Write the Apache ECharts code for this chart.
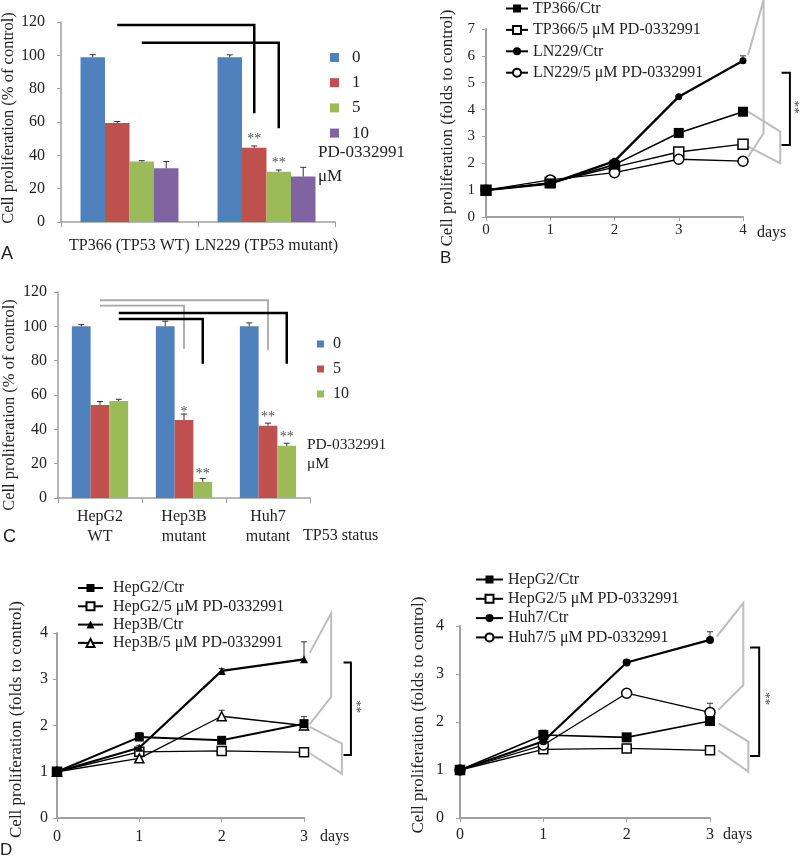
<!DOCTYPE html>
<html>
<head>
<meta charset="utf-8">
<title>PD-0332991 cell proliferation</title>
<script src="https://cdn.jsdelivr.net/npm/echarts@6.0.0/dist/echarts.min.js"></script>
<style>
  html, body { margin: 0; padding: 0; background: #fff; }
  .panel { position: absolute; left: 0; top: 0; width: 800px; height: 861px; }
</style>
</head>
<body>
<div id="panelA" class="panel"></div>
<div id="panelB" class="panel"></div>
<div id="panelC" class="panel"></div>
<div id="panelD1" class="panel"></div>
<div id="panelD2" class="panel"></div>
<script>
var SERIF = "'Liberation Serif', 'Times New Roman', serif";
var SANS = "'Liberation Sans', Arial, sans-serif";
var TXT = '#222';
var AXIS_GREY = '#a0a0a0';
var LINK_GREY = '#bdbdbd';
var BLUE = '#4F81BD', RED = '#C0504D', GREEN = '#9BBB59', PURPLE = '#8064A2';

// ---- panel A : glioma lines, % of control
var aCells = ['TP366 (TP53 WT)', 'LN229 (TP53 mutant)'];
var aDoses = ['0', '1', '5', '10'];
var aVal0 = [98.8, 98.8];
var aVal1 = [59.4, 44.6];
var aVal5 = [36.3, 30.2];
var aVal10 = [32.3, 27.3];
var aErr0 = [1.6, 1.5];
var aErr1 = [0.9, 1.0];
var aErr5 = [0.5, 1.0];
var aErr10 = [4.0, 5.5];
var aStar1 = ['', '**'];
var aStar5 = ['', '**'];
// brackets: [fromCell, toCell, doseIndex, top, drop]
var aLinks = [[0, 1, 1, 118.2, 65.2], [0, 1, 2, 107.6, 56.2]];

// ---- panel B : glioma lines, folds to control
var bDays = [0, 1, 2, 3, 4];
var bTp366Ctr = [1.0, 1.25, 1.95, 3.13, 3.92];
var bTp366Pd = [1.0, 1.28, 1.86, 2.42, 2.71];
var bLn229Ctr = [1.0, 1.24, 2.08, 4.48, 5.82];
var bLn229Pd = [1.0, 1.38, 1.65, 2.15, 2.08];
var bErrTp366Ctr = [0, 0, 0, 0.05, 0.08];
var bErrTp366Pd = [0, 0, 0, 0, 0.05];
var bErrLn229Ctr = [0, 0, 0.05, 0.05, 0.18];
var bErrLn229Pd = [0, 0, 0, 0, 0.04];

// ---- panel C : HCC lines, % of control
var cCells = ['HepG2\nWT', 'Hep3B\nmutant', 'Huh7\nmutant'];
var cDoses = ['0', '5', '10'];
var cVal0 = [100, 100, 100];
var cVal5 = [54.2, 45.4, 42.1];
var cVal10 = [56.5, 9.4, 30.4];
var cErr0 = [1.0, 3.0, 2.0];
var cErr5 = [2.0, 3.5, 1.5];
var cErr10 = [1.0, 2.0, 1.5];
var cStar5 = ['', '*', '**'];
var cStar10 = ['', '**', '**'];
var cLinksGrey = [[0, 2, 1, 115.2, 86.0], [0, 1, 1, 112.1, 87.0]];
var cLinksBlack = [[0, 2, 2, 107.8, 78.2], [0, 1, 2, 104.3, 78.2]];

// ---- panel D : HCC lines, folds to control
var dDays = [0, 1, 2, 3];
var dHepg2CtrL = [1.0, 1.75, 1.68, 2.04];
var dHepg2PdL = [1.0, 1.43, 1.45, 1.42];
var dHep3bCtr = [1.0, 1.52, 3.18, 3.43];
var dHep3bPd = [1.0, 1.29, 2.2, 2.0];
var dErrHepg2CtrL = [0, 0.1, 0.05, 0.15];
var dErrHep3bCtr = [0, 0.05, 0.05, 0.38];
var dErrHep3bPd = [0, 0.05, 0.13, 0.05];
var dHepg2CtrR = [1.0, 1.73, 1.68, 2.02];
var dHepg2PdR = [1.0, 1.43, 1.45, 1.41];
var dHuh7Ctr = [1.0, 1.6, 3.24, 3.71];
var dHuh7Pd = [1.0, 1.52, 2.6, 2.2];
var dErrHepg2CtrR = [0, 0.1, 0.05, 0.08];
var dErrHuh7Ctr = [0, 0.05, 0.05, 0.17];
var dErrHuh7Pd = [0, 0.05, 0.05, 0.19];
var zeros4 = [0, 0, 0, 0];

function px(chart, x, y) {
    return chart.convertToPixel({gridIndex: 0}, [x, y]);
}

function serifText(size, extra) {
    var t = {fontFamily: SERIF, fontSize: size, color: TXT};
    if (extra) for (var k in extra) t[k] = extra[k];
    return t;
}

function textEl(x, y, text, size, font) {
    return {
        type: 'text', x: x, y: y, z: 20,
        style: {text: text, fill: TXT, fontFamily: font, fontSize: size,
            textAlign: 'left', textVerticalAlign: 'middle', align: 'left', verticalAlign: 'middle'}
    };
}

function barPanel(id, p) {
    var chart = echarts.init(document.getElementById(id));
    var n = p.values.length;
    var series = p.values.map(function (vals, i) {
        return {
            name: p.doses[i], type: 'bar', barGap: 0, barCategoryGap: p.gap + '%',
            itemStyle: {color: p.colors[i]},
            emphasis: {disabled: true},
            data: vals.map(function (v, j) {
                var s = p.stars[i] ? p.stars[i][j] : '';
                if (!s) return v;
                return {value: v, label: {show: true, position: 'top', distance: 1, formatter: s,
                    fontFamily: SERIF, fontSize: 14, color: '#555'}};
            })
        };
    });
    var errData = [];
    p.errs.forEach(function (es, i) {
        es.forEach(function (e, j) { errData.push([j, i, p.values[i][j], e]); });
    });
    series.push({
        type: 'custom', z: 5, encode: {x: 0, y: 2}, data: errData, silent: true,
        renderItem: function (params, api) {
            var j = api.value(0), i = api.value(1), v = api.value(2), e = api.value(3);
            var band = api.coord([1, 0])[0] - api.coord([0, 0])[0];
            var bw = band * (1 - p.gap / 100) / n;
            var base = api.coord([j, v]);
            var x = base[0] + (i - (n - 1) / 2) * bw;
            var y1 = api.coord([j, v + e])[1];
            var st = {stroke: '#333', lineWidth: 1};
            return {type: 'group', children: [
                {type: 'line', shape: {x1: x, y1: base[1], x2: x, y2: y1}, style: st},
                {type: 'line', shape: {x1: x - 3, y1: y1, x2: x + 3, y2: y1}, style: st}
            ]};
        }
    });
    chart.setOption({
        animation: false,
        textStyle: {fontFamily: SERIF, color: TXT},
        grid: p.grid,
        legend: {
            orient: 'vertical', left: p.legend.left, top: p.legend.top, selectedMode: false,
            icon: 'rect', itemWidth: p.legend.size, itemHeight: p.legend.size, itemGap: p.legend.gap,
            data: p.doses,
            textStyle: serifText(p.legend.font, {lineHeight: 18, padding: [0, 0, 0, p.legend.pad]})
        },
        xAxis: {
            type: 'category', data: p.cells,
            name: p.xName || '', nameLocation: 'end', nameGap: p.xNameGap || 0,
            nameTextStyle: serifText(16, {align: 'left', verticalAlign: 'top', padding: [p.xNamePad || 0, 0, 0, 0]}),
            axisLine: {lineStyle: {color: AXIS_GREY, width: 1.5}},
            axisTick: {show: true, length: 5, lineStyle: {color: AXIS_GREY}},
            axisLabel: serifText(16, {margin: p.xMargin, lineHeight: 20, interval: 0})
        },
        yAxis: {
            type: 'value', min: 0, max: p.yMax, interval: p.yStep,
            name: 'Cell proliferation (% of control)', nameLocation: 'middle', nameGap: p.yNameGap,
            nameTextStyle: serifText(16.5, {padding: p.yNamePad}),
            splitLine: {show: false},
            axisLine: {show: true, lineStyle: {color: AXIS_GREY, width: 1.5}},
            axisTick: {show: true, length: 4, lineStyle: {color: AXIS_GREY}},
            axisLabel: serifText(16, {margin: p.yMargin})
        },
        series: series
    });

    // significance brackets, placed through the chart's own scales
    var band = px(chart, 1, 0)[0] - px(chart, 0, 0)[0];
    var bw = band * (1 - p.gap / 100) / n;
    var g = [];
    p.links.forEach(function (set) {
        set.list.forEach(function (l) {
            var off = (l[2] - (n - 1) / 2) * bw;
            var a = px(chart, l[0], l[3]), b = px(chart, l[1], l[3]), c = px(chart, l[1], l[4]);
            g.push({type: 'polyline', z: 10, shape: {points: [[a[0] + off, a[1]], [b[0] + off, b[1]], [c[0] + off, c[1]]]},
                style: {stroke: set.color, lineWidth: set.width, fill: 'none'}});
        });
    });
    g.push(textEl(p.pd.x, p.pd.y, 'PD-0332991', p.pd.font, SERIF));
    g.push(textEl(p.pd.x, p.pd.y + p.pd.step, 'μM', p.pd.font, SERIF));
    g.push(textEl(p.letter.x, p.letter.y, p.letter.text, 18, SANS));
    chart.setOption({graphic: g});
    return chart;
}

function linePanel(id, p) {
    var chart = echarts.init(document.getElementById(id));
    var series = [];
    p.lines.forEach(function (ln) {
        series.push({
            name: ln.name, type: 'line', z: ln.open ? 3 : 4,
            data: p.days.map(function (d, i) { return [d, ln.values[i]]; }),
            symbol: ln.symbol, symbolSize: ln.size, showAllSymbol: true,
            lineStyle: {color: '#000', width: ln.width},
            itemStyle: ln.open ? {color: '#fff', borderColor: '#000', borderWidth: 1.5} : {color: '#000'},
            emphasis: {disabled: true}
        });
    });
    var errData = [];
    p.lines.forEach(function (ln) {
        ln.errs.forEach(function (e, i) { if (e > 0) errData.push([p.days[i], ln.values[i], e]); });
    });
    series.push({
        type: 'custom', z: 2, encode: {x: 0, y: 1}, data: errData, silent: true,
        renderItem: function (params, api) {
            var a = api.coord([api.value(0), api.value(1)]);
            var b = api.coord([api.value(0), api.value(1) + api.value(2)]);
            var st = {stroke: '#333', lineWidth: 1};
            return {type: 'group', children: [
                {type: 'line', shape: {x1: a[0], y1: a[1], x2: b[0], y2: b[1]}, style: st},
                {type: 'line', shape: {x1: b[0] - 3, y1: b[1], x2: b[0] + 3, y2: b[1]}, style: st}
            ]};
        }
    });
    chart.setOption({
        animation: false,
        textStyle: {fontFamily: SERIF, color: TXT},
        grid: p.grid,
        legend: {
            orient: 'vertical', left: p.legend.left, top: p.legend.top, selectedMode: false,
            itemWidth: p.legend.width, itemHeight: 10, itemGap: p.legend.gap,
            data: p.lines.map(function (ln) { return ln.name; }),
            textStyle: serifText(16, {lineHeight: 17, padding: [0, 0, 0, p.legend.pad]})
        },
        xAxis: {
            type: 'value', min: 0, max: p.days[p.days.length - 1], interval: 1,
            name: 'days', nameLocation: 'end', nameGap: p.xNameGap,
            nameTextStyle: serifText(16, {align: 'left', verticalAlign: 'top', padding: [p.xNamePad, 0, 0, 0]}),
            splitLine: {show: false},
            axisLine: {lineStyle: {color: AXIS_GREY, width: 2}},
            axisTick: {show: true, length: 4, lineStyle: {color: AXIS_GREY}},
            axisLabel: serifText(p.font, {margin: p.xMargin})
        },
        yAxis: {
            type: 'value', min: 0, max: p.yMax, interval: 1,
            name: 'Cell proliferation (folds to control)', nameLocation: 'middle', nameGap: p.yNameGap,
            nameTextStyle: serifText(17, {padding: p.yNamePad}),
            splitLine: {show: false},
            axisLine: {show: true, lineStyle: {color: AXIS_GREY, width: 2}},
            axisTick: {show: true, length: 4, lineStyle: {color: AXIS_GREY}},
            axisLabel: serifText(p.font, {margin: p.yMargin})
        },
        series: series
    });

    var g = [];
    p.pairs.forEach(function (pts) {
        g.push({type: 'polyline', z: 1, shape: {points: pts.map(function (q) { return px(chart, q[0], q[1]); })},
            style: {stroke: LINK_GREY, lineWidth: 2, fill: 'none'}});
    });
    var s = p.sig;
    var br = [[s.tickX, s.top], [s.barX, s.top], [s.barX, s.bottom], [s.tickX, s.bottom]];
    g.push({type: 'polyline', z: 10, shape: {points: br.map(function (q) { return px(chart, q[0], q[1]); })},
        style: {stroke: '#000', lineWidth: 2, fill: 'none'}});
    var star = px(chart, s.starX, s.starY);
    g.push({type: 'text', x: star[0], y: star[1], rotation: -Math.PI / 2, z: 10,
        style: {text: '**', fill: '#444', fontFamily: SERIF, fontSize: 13,
            textAlign: 'center', textVerticalAlign: 'middle', align: 'center', verticalAlign: 'middle'}});
    if (p.letter) g.push(textEl(p.letter.x, p.letter.y, p.letter.text, 17, SANS));
    chart.setOption({graphic: g});
    return chart;
}

barPanel('panelA', {
    cells: aCells, doses: aDoses,
    values: [aVal0, aVal1, aVal5, aVal10],
    errs: [aErr0, aErr1, aErr5, aErr10],
    stars: [null, aStar1, aStar5, null],
    colors: [BLUE, RED, GREEN, PURPLE],
    links: [{list: aLinks, color: '#000', width: 2.5}],
    gap: 28.5, yMax: 120, yStep: 20,
    grid: {left: 61, top: 22, width: 274, height: 200, outerBoundsMode: 'none'},
    xMargin: 14, yMargin: 16, yNameGap: 44, yNamePad: [0, 0, 0, 8],
    legend: {left: 325, top: 43.5, size: 9, gap: 7.2, font: 17, pad: 8},
    pd: {x: 318, y: 153, step: 24, font: 17},
    letter: {x: 1, y: 254, text: 'A'}
});

linePanel('panelB', {
    days: bDays, yMax: 7, font: 15,
    lines: [
        {name: 'TP366/Ctr', values: bTp366Ctr, errs: bErrTp366Ctr, symbol: 'rect', size: 10, width: 1.6, open: false},
        {name: 'TP366/5 μM PD-0332991', values: bTp366Pd, errs: bErrTp366Pd, symbol: 'rect', size: 10, width: 1.3, open: true},
        {name: 'LN229/Ctr', values: bLn229Ctr, errs: bErrLn229Ctr, symbol: 'circle', size: 7, width: 2.3, open: false},
        {name: 'LN229/5 μM PD-0332991', values: bLn229Pd, errs: bErrLn229Pd, symbol: 'circle', size: 10, width: 1.3, open: true}
    ],
    grid: {left: 486, top: 29, width: 257, height: 188, outerBoundsMode: 'none'},
    xMargin: 6, yMargin: 11, yNameGap: 30, yNamePad: [0, 10, 0, 0], xNameGap: 14, xNamePad: 8,
    legend: {left: 500, top: -5, width: 22, gap: 4.4, pad: 0},
    pairs: [
        [[4.08, 6.03], [4.32, 8.08], [4.32, 3.12], [4.08, 2.24]],
        [[4.08, 3.92], [4.58, 3.18], [4.58, 2.0], [4.08, 2.62]]
    ],
    sig: {tickX: 4.60, barX: 4.73, top: 5.37, bottom: 2.68, starX: 4.80, starY: 4.1},
    letter: {x: 440, y: 258, text: 'B'}
});

barPanel('panelC', {
    cells: cCells, doses: cDoses,
    values: [cVal0, cVal5, cVal10],
    errs: [cErr0, cErr5, cErr10],
    stars: [null, cStar5, cStar10],
    colors: [BLUE, RED, GREEN],
    links: [{list: cLinksGrey, color: '#a8a8a8', width: 1.8}, {list: cLinksBlack, color: '#000', width: 2.5}],
    gap: 33, yMax: 120, yStep: 20,
    grid: {left: 58, top: 292, width: 252, height: 206, outerBoundsMode: 'none'},
    xMargin: 9, yMargin: 11, yNameGap: 40, yNamePad: [0, 20, 0, 0],
    xName: 'TP53 status', xNameGap: -7, xNamePad: 30,
    legend: {left: 312, top: 330, size: 7, gap: 7, font: 16, pad: 4},
    pd: {x: 307, y: 445, step: 19, font: 15.5},
    letter: {x: 3, y: 537, text: 'C'}
});

linePanel('panelD1', {
    days: dDays, yMax: 4, font: 16,
    lines: [
        {name: 'HepG2/Ctr', values: dHepg2CtrL, errs: dErrHepg2CtrL, symbol: 'rect', size: 9, width: 2, open: false},
        {name: 'HepG2/5 μM PD-0332991', values: dHepg2PdL, errs: zeros4, symbol: 'rect', size: 9, width: 1.3, open: true},
        {name: 'Hep3B/Ctr', values: dHep3bCtr, errs: dErrHep3bCtr, symbol: 'triangle', size: 8, width: 2.2, open: false},
        {name: 'Hep3B/5 μM PD-0332991', values: dHep3bPd, errs: dErrHep3bPd, symbol: 'triangle', size: 9, width: 1.3, open: true}
    ],
    grid: {left: 57, top: 633, width: 247, height: 185, outerBoundsMode: 'none'},
    xMargin: 11, yMargin: 9, yNameGap: 32, yNamePad: [0, 0, 0, 12], xNameGap: 16, xNamePad: 11,
    legend: {left: 72, top: 574.5, width: 25, gap: 1.3, pad: 5},
    pairs: [
        [[3.07, 3.57], [3.33, 4.43], [3.33, 2.62], [3.07, 2.03]],
        [[3.07, 1.97], [3.46, 1.61], [3.46, 0.96], [3.07, 1.40]]
    ],
    sig: {tickX: 3.48, barX: 3.57, top: 3.36, bottom: 1.36, starX: 3.64, starY: 2.41},
    letter: {x: 0, y: 850, text: 'D'}
});

linePanel('panelD2', {
    days: dDays, yMax: 4, font: 16,
    lines: [
        {name: 'HepG2/Ctr', values: dHepg2CtrR, errs: dErrHepg2CtrR, symbol: 'rect', size: 10, width: 1.6, open: false},
        {name: 'HepG2/5 μM PD-0332991', values: dHepg2PdR, errs: zeros4, symbol: 'rect', size: 9, width: 1.3, open: true},
        {name: 'Huh7/Ctr', values: dHuh7Ctr, errs: dErrHuh7Ctr, symbol: 'circle', size: 8, width: 2.2, open: false},
        {name: 'Huh7/5 μM PD-0332991', values: dHuh7Pd, errs: dErrHuh7Pd, symbol: 'circle', size: 10, width: 1.3, open: true}
    ],
    grid: {left: 460, top: 626, width: 250, height: 192, outerBoundsMode: 'none'},
    xMargin: 9, yMargin: 16, yNameGap: 33, yNamePad: [0, 0, 0, 14], xNameGap: 13, xNamePad: 9,
    legend: {left: 470, top: 566, width: 27, gap: 2.3, pad: 0},
    pairs: [
        [[3.08, 3.78], [3.40, 4.48], [3.40, 2.77], [3.10, 2.25]],
        [[3.10, 1.97], [3.46, 1.59], [3.46, 0.96], [3.10, 1.41]]
    ],
    sig: {tickX: 3.48, barX: 3.59, top: 3.55, bottom: 1.29, starX: 3.66, starY: 2.49},
    letter: null
});
</script>
</body>
</html>
